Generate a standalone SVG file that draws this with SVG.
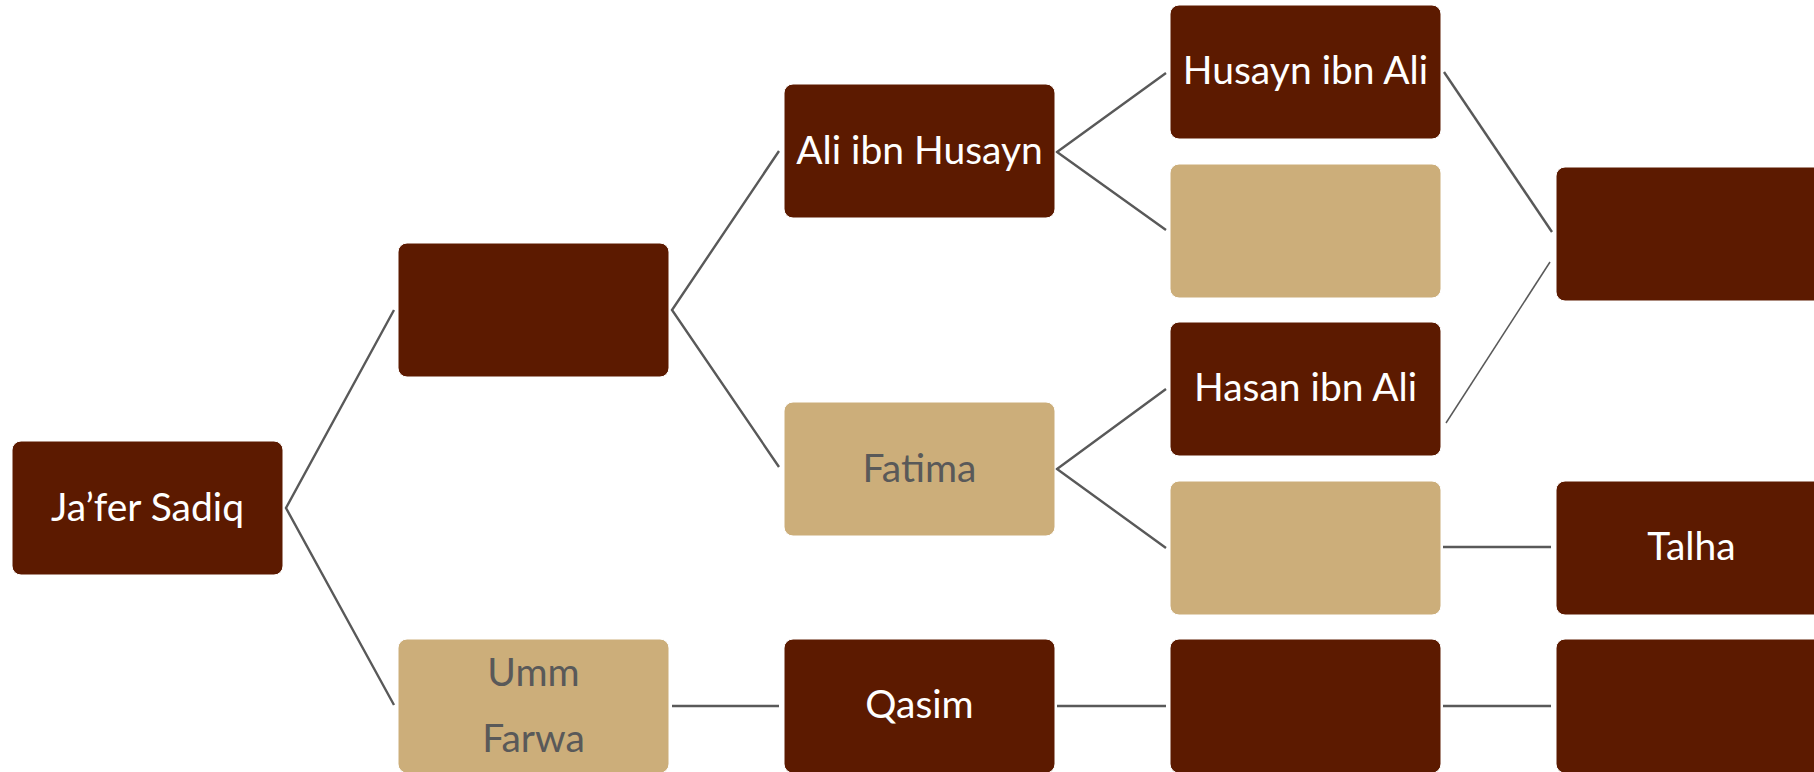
<svg xmlns="http://www.w3.org/2000/svg" width="1814" height="772" viewBox="0 0 1814 772">
<style>
.dark{fill:#5C1A00;stroke:#ffffff;stroke-width:1}
.tan{fill:#CCAE7A;stroke:#ffffff;stroke-width:1}
.lt{font-family:Lato,"Liberation Sans",sans-serif;font-size:39px;fill:#ffffff;text-anchor:middle}
.gt{font-family:Lato,"Liberation Sans",sans-serif;font-size:39px;fill:#595959;text-anchor:middle}
.c{fill:none;stroke:#595959;stroke-width:2.4}
.c1{fill:none;stroke:#595959;stroke-width:1.5}
</style>
<rect width="1814" height="772" fill="#ffffff"/>
<g id="connectors">
<polyline class="c" points="394,310 286,508 394,705"/>
<polyline class="c" points="779,151 672,310 779,467"/>
<polyline class="c" points="1166,73 1057,152 1166,230"/>
<polyline class="c" points="1166,389 1057,469 1166,548"/>
<line class="c" x1="1444" y1="72" x2="1552" y2="232"/>
<line class="c1" x1="1446" y1="423" x2="1550" y2="262"/>
<line class="c" x1="1443" y1="547" x2="1551" y2="547"/>
<line class="c" x1="672" y1="706" x2="779" y2="706"/>
<line class="c" x1="1057" y1="706" x2="1166" y2="706"/>
<line class="c" x1="1443" y1="706" x2="1551" y2="706"/>
</g>
<g id="jafer"><rect class="dark" x="12" y="441" width="271" height="134" rx="9"/><text class="lt" x="147.5" y="521">Ja’fer Sadiq</text></g>
<g id="parent1"><rect class="dark" x="398" y="243" width="271" height="134" rx="9"/></g>
<g id="ummfarwa"><rect class="tan" x="398" y="639" width="271" height="134" rx="9"/><text class="gt" x="533.5" y="686">Umm</text><text class="gt" x="533.5" y="752">Farwa</text></g>
<g id="ali"><rect class="dark" x="784" y="84" width="271" height="134" rx="9"/><text class="lt" x="919.5" y="164">Ali ibn Husayn</text></g>
<g id="fatima"><rect class="tan" x="784" y="402" width="271" height="134" rx="9"/><text class="gt" x="919.5" y="482">Fatima</text></g>
<g id="qasim"><rect class="dark" x="784" y="639" width="271" height="134" rx="9"/><text class="lt" x="919.5" y="718">Qasim</text></g>
<g id="husayn"><rect class="dark" x="1170" y="5" width="271" height="134" rx="9"/><text class="lt" x="1305.5" y="84">Husayn ibn Ali</text></g>
<g id="tan4a"><rect class="tan" x="1170" y="164" width="271" height="134" rx="9"/></g>
<g id="hasan"><rect class="dark" x="1170" y="322" width="271" height="134" rx="9"/><text class="lt" x="1305.5" y="401">Hasan ibn Ali</text></g>
<g id="tan4b"><rect class="tan" x="1170" y="481" width="271" height="134" rx="9"/></g>
<g id="dark4c"><rect class="dark" x="1170" y="639" width="271" height="134" rx="9"/></g>
<g id="dark5a"><rect class="dark" x="1556" y="167" width="271" height="134" rx="9"/></g>
<g id="talha"><rect class="dark" x="1556" y="481" width="271" height="134" rx="9"/><text class="lt" x="1691.5" y="560">Talha</text></g>
<g id="dark5c"><rect class="dark" x="1556" y="639" width="271" height="134" rx="9"/></g>
</svg>
